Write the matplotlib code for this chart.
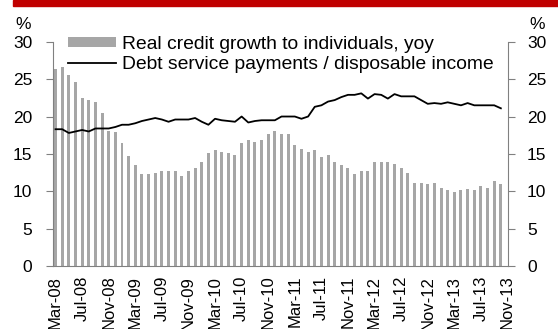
import matplotlib
matplotlib.use("Agg")
import matplotlib.pyplot as plt
from matplotlib.patches import Rectangle
import numpy as np

plt.rcParams['font.family'] = ['Liberation Sans', 'DejaVu Sans']

# monthly, Mar-08 .. Oct-13
credit_growth = [26.4, 26.6, 25.5, 24.6, 22.5, 22.2, 22.0, 20.5, 18.1, 17.9,
                 16.4, 14.7, 13.5, 12.3, 12.3, 12.5, 12.7, 12.7, 12.7, 12.0,
                 12.7, 13.1, 13.9, 15.1, 15.5, 15.2, 15.1, 14.8, 16.4, 16.8,
                 16.6, 16.8, 17.6, 18.1, 17.7, 17.7, 16.2, 15.7, 15.3, 15.5,
                 14.6, 14.8, 13.9, 13.5, 13.1, 12.3, 12.7, 12.7, 13.9, 13.9,
                 13.9, 13.7, 13.1, 12.5, 11.1, 11.1, 11.0, 11.1, 10.5, 10.2,
                 9.9, 10.2, 10.3, 10.2, 10.7, 10.4, 11.4, 11.0]
debt_service = [18.3, 18.3, 17.8, 18.0, 18.2, 18.0, 18.4, 18.4, 18.4, 18.6,
                18.9, 18.9, 19.1, 19.4, 19.6, 19.8, 19.6, 19.3, 19.6, 19.6,
                19.6, 19.8, 19.3, 18.9, 19.7, 19.5, 19.4, 19.3, 20.0, 19.2,
                19.4, 19.5, 19.5, 19.5, 20.0, 20.0, 20.0, 19.7, 20.0, 21.3,
                21.5, 22.0, 22.2, 22.6, 22.9, 22.9, 23.1, 22.4, 23.0, 22.9,
                22.4, 23.0, 22.7, 22.7, 22.7, 22.2, 21.7, 21.8, 21.7, 21.9,
                21.7, 21.5, 21.8, 21.5, 21.5, 21.5, 21.5, 21.1]
tick_labels = ['Mar-08', 'Jul-08', 'Nov-08', 'Mar-09', 'Jul-09', 'Nov-09',
               'Mar-10', 'Jul-10', 'Nov-10', 'Mar-11', 'Jul-11', 'Nov-11',
               'Mar-12', 'Jul-12', 'Nov-12', 'Mar-13', 'Jul-13', 'Nov-13']

x = np.arange(len(credit_growth))
grey = '#808080'

fig = plt.figure(figsize=(5.58, 3.29), dpi=100)
ax = fig.add_axes([0.095, 0.1915, 0.8145, 0.6815])

bars = ax.bar(x, credit_growth, width=0.45, color='#a6a6a6',
              label='Real credit growth to individuals, yoy')
line, = ax.plot(x, debt_service, color='black', lw=1.3,
                label='Debt service payments / disposable income')

ax.set_xlim(-0.38, 68)
ax.set_ylim(0, 30)
ax.set_yticks(range(0, 31, 5))
ax.set_xticks(range(0, 69, 4))
ax.set_xticklabels(tick_labels, rotation=90, fontsize=12)
ax.tick_params(axis='x', length=0, pad=7)
ax.tick_params(axis='y', direction='out', length=5, color=grey,
               labelsize=12.5, pad=10)

for s in ['top', 'right']:
    ax.spines[s].set_visible(False)
for s in ['left', 'bottom']:
    ax.spines[s].set_color(grey)

ax2 = ax.twinx()
ax2.set_ylim(0, 30)
ax2.set_yticks(range(0, 31, 5))
ax2.tick_params(axis='y', direction='out', length=5, color=grey,
                labelsize=12.5, pad=9)
for s in ['top', 'left', 'bottom']:
    ax2.spines[s].set_visible(False)
ax2.spines['right'].set_color(grey)

ax.legend(handles=[bars, line], loc='upper left',
          bbox_to_anchor=(0.033, 1.025), frameon=False,
          fontsize=13.9, handlelength=2.5, handleheight=0.45,
          handletextpad=0.3, labelspacing=0.15, borderaxespad=0,
          borderpad=0)

fig.text(0.042, 0.925, '%', fontsize=12.5, ha='center', va='center')
fig.text(0.963, 0.925, '%', fontsize=12.5, ha='center', va='center')

# red header strip (cut off in the source)
fig.patches.append(Rectangle((13 / 558, 1 - 6 / 329), 545 / 558, 6 / 329,
                             transform=fig.transFigure, color='#c00000'))

fig.savefig('out.png', dpi=100)
